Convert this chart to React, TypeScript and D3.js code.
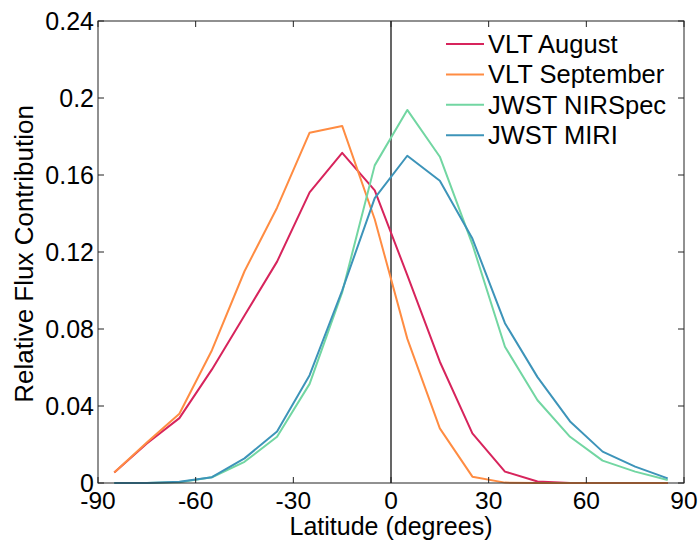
import React from "react";
import * as d3 from "d3";

// Latitude bins (degrees) at which each flux contribution was sampled
const latitudes = [-85, -75, -65, -55, -45, -35, -25, -15, -5, 5, 15, 25, 35, 45, 55, 65, 75, 85];

const vltAugust = [0.0055, 0.0205, 0.0337, 0.059, 0.087, 0.115, 0.151, 0.1715, 0.152, 0.108, 0.063, 0.0258, 0.0059, 0.0008, 0, 0, 0, 0];
const vltSeptember = [0.0055, 0.021, 0.036, 0.069, 0.11, 0.143, 0.182, 0.1855, 0.137, 0.075, 0.0284, 0.0033, 0.0002, 0, 0, 0, 0, 0];
const jwstNirspec = [0, 0, 0.0004, 0.003, 0.011, 0.024, 0.0515, 0.099, 0.165, 0.1938, 0.1695, 0.124, 0.0708, 0.043, 0.024, 0.0116, 0.0059, 0.0016];
const jwstMiri = [0, 0, 0.0007, 0.003, 0.0128, 0.0267, 0.056, 0.1, 0.148, 0.17, 0.157, 0.127, 0.083, 0.055, 0.032, 0.0163, 0.0085, 0.0024];

const seriesNames = ["VLT August", "VLT September", "JWST NIRSpec", "JWST MIRI"];
const seriesColors = ["#d7245c", "#ff8c42", "#72d6a2", "#3d94b9"];
const seriesValues = [vltAugust, vltSeptember, jwstNirspec, jwstMiri];

const xTicks = [-90, -60, -30, 0, 30, 60, 90];
const yTicks = [0, 0.04, 0.08, 0.12, 0.16, 0.2, 0.24];
const yTickLabels = ["0", "0.04", "0.08", "0.12", "0.16", "0.2", "0.24"];

const W = 699;
const H = 543;
const margin = { left: 98, right: 15, top: 21, bottom: 60 };
const FONT = "'Liberation Sans', Arial, Helvetica, sans-serif";

export default function App() {
  const x = d3.scaleLinear().domain([-90, 90]).range([margin.left, W - margin.right]);
  const y = d3.scaleLinear().domain([0, 0.24]).range([H - margin.bottom, margin.top]);
  const line = d3
    .line<number>()
    .x((_, i) => x(latitudes[i]))
    .y((d) => y(d));

  const x0 = x(-90), x1 = x(90), y0 = y(0), y1 = y(0.24);
  const tickLen = 6;
  const axisColor = "#222";

  return (
    <svg
      width={W}
      height={H}
      style={{ position: "absolute", left: 0, top: 0, background: "#fff" }}
      fontFamily={FONT}
    >
      <rect x={0} y={0} width={W} height={H} fill="#fff" />

      {/* Reference line at the equator */}
      <line x1={x(0)} x2={x(0)} y1={y0} y2={y1} stroke="#000" strokeWidth={1.2} />

      {/* Data series */}
      {seriesValues.map((vals, k) => (
        <path
          key={seriesNames[k]}
          d={line(vals) || ""}
          fill="none"
          stroke={seriesColors[k]}
          strokeWidth={2}
          strokeLinejoin="round"
        />
      ))}

      {/* Axes box */}
      <rect x={x0} y={y1} width={x1 - x0} height={y0 - y1} fill="none" stroke={axisColor} strokeWidth={1} />

      {/* X ticks, inward on top and bottom */}
      {xTicks.map((t) => (
        <g key={"xt" + t}>
          <line x1={x(t)} x2={x(t)} y1={y0} y2={y0 - tickLen} stroke={axisColor} />
          <line x1={x(t)} x2={x(t)} y1={y1} y2={y1 + tickLen} stroke={axisColor} />
          <text x={x(t)} y={509} textAnchor="middle" fontSize={24.5} fill="#000">
            {t}
          </text>
        </g>
      ))}

      {/* Y ticks, inward on left and right */}
      {yTicks.map((t, i) => (
        <g key={"yt" + t}>
          <line x1={x0} x2={x0 + tickLen} y1={y(t)} y2={y(t)} stroke={axisColor} />
          <line x1={x1} x2={x1 - tickLen} y1={y(t)} y2={y(t)} stroke={axisColor} />
          <text x={x0 - 4} y={y(t)} dy="0.35em" textAnchor="end" fontSize={25} fill="#000">
            {yTickLabels[i]}
          </text>
        </g>
      ))}

      {/* Axis titles */}
      <text x={(x0 + x1) / 2} y={535} textAnchor="middle" fontSize={25} fill="#000">
        Latitude (degrees)
      </text>
      <text
        transform={`translate(33, ${(y0 + y1) / 2 + 2}) rotate(-90)`}
        textAnchor="middle"
        fontSize={26}
        fill="#000"
      >
        Relative Flux Contribution
      </text>

      {/* Legend */}
      {seriesNames.map((name, k) => {
        const ly = 44 + k * 30.4;
        return (
          <g key={"lg" + name}>
            <line x1={446} x2={484} y1={ly} y2={ly} stroke={seriesColors[k]} strokeWidth={2} />
            <text x={488} y={ly} dy="0.35em" fontSize={25.5} fill="#000">
              {name}
            </text>
          </g>
        );
      })}
    </svg>
  );
}
